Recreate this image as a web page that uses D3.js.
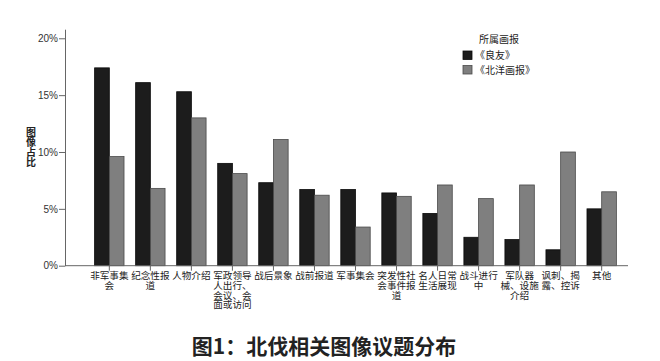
<!DOCTYPE html>
<html><head><meta charset="utf-8">
<script src="https://cdn.jsdelivr.net/npm/d3@7"></script>
<style>
body{margin:0;background:#fff;}
svg{display:block;font-family:"Liberation Sans","Noto Sans CJK SC",sans-serif;}
</style></head>
<body><svg id="c" width="660" height="361"></svg>
<script>
const categories = ["非军事集会","纪念性报道","人物介绍","军政领导人出行、会议、会面或访问","战后景象","战前报道","军事集会","突发性社会事件报道","名人日常生活展现","战斗进行中","军队器械、设施介绍","讽刺、揭露、控诉","其他"];
const labelLines = [["非军事集","会"],["纪念性报","道"],["人物介绍"],["军政领导","人出行、","会议、会","面或访问"],["战后景象"],["战前报道"],["军事集会"],["突发性社","会事件报","道"],["名人日常","生活展现"],["战斗进行","中"],["军队器","械、设施","介绍"],["讽刺、揭","露、控诉"],["其他"]];
const seriesNames = ["《良友》","《北洋画报》"];
const liangyou = [17.4,16.1,15.3,9.0,7.3,6.7,6.7,6.4,4.6,2.5,2.3,1.4,5.0];
const beiyang = [9.6,6.8,13.0,8.1,11.1,6.2,3.4,6.1,7.1,5.9,7.1,10.0,6.5];
const yTicks = [0,5,10,15,20];
const legendTitle = "所属画报";
const yTitle = "图像占比";
const chartTitle = "图1：北伐相关图像议题分布";

const svg = d3.select("#c");
const colors = ["#1c1c1c","#7f7f7f"];
const strokes = ["#0a0a0a","#4a4a4a"];

const x = d3.scaleBand().domain(categories).range([88.8,622.2]).paddingInner(0.2835).paddingOuter(0.14175);
const xs = d3.scaleBand().domain(seriesNames).range([0,x.bandwidth()]);
const y = d3.scaleLinear().domain([0,20.8]).range([265.7,29.2]);

const data = categories.map((c,i)=>({c, v:[liangyou[i],beiyang[i]]}));

const g = svg.append("g");
data.forEach(d=>{
  seriesNames.forEach((s,j)=>{
    g.append("rect")
      .attr("x", x(d.c)+xs(s))
      .attr("y", y(d.v[j]))
      .attr("width", xs.bandwidth())
      .attr("height", y(0)-y(d.v[j]))
      .attr("fill", colors[j])
      .attr("stroke", strokes[j])
      .attr("stroke-width", 0.8);
  });
});

// y axis
const ya = svg.append("g").attr("transform","translate(65,0)")
  .call(d3.axisLeft(y).tickValues(yTicks).tickFormat(d=>d+"%").tickSize(6).tickPadding(1).tickSizeOuter(0));
ya.selectAll("text").attr("font-size",10).attr("fill","#333");
ya.selectAll("line,path").attr("stroke","#666");

// x axis
const xa = svg.append("g").attr("transform",`translate(0,${y(0)})`)
  .call(d3.axisBottom(x).tickSize(5).tickFormat("").tickSizeOuter(0));
xa.select("path").remove();
xa.selectAll("line").attr("stroke","#666");
svg.append("line").attr("x1",65).attr("x2",628).attr("y1",y(0)).attr("y2",y(0)).attr("stroke","#666");

// x labels
categories.forEach((c,i)=>{
  const t = svg.append("text").attr("x",x(c)+x.bandwidth()/2).attr("y",279)
    .attr("text-anchor","middle").attr("font-size",9.6).attr("fill","#222")
    .attr("font-family","Noto Sans CJK SC");
  labelLines[i].forEach((l,k)=>{
    t.append("tspan").attr("x",x(c)+x.bandwidth()/2).attr("dy",k?9.8:0).text(l);
  });
});

// y title (vertical)
svg.append("text").attr("x",31).attr("y",127)
  .style("writing-mode","vertical-rl").style("text-orientation","upright")
  .attr("font-size",10).attr("font-weight","bold").attr("fill","#222")
  .attr("font-family","Noto Sans CJK SC").text(yTitle);

// legend
svg.append("text").attr("x",499).attr("y",43).attr("text-anchor","middle").attr("font-size",10)
  .attr("fill","#222").attr("font-family","Noto Sans CJK SC").text(legendTitle);
seriesNames.forEach((s,j)=>{
  svg.append("rect").attr("x",463).attr("y",51+j*14.5).attr("width",9).attr("height",8.5)
    .attr("fill",colors[j]).attr("stroke",strokes[j]).attr("stroke-width",0.8);
  svg.append("text").attr("x",475).attr("y",59+j*14.5).attr("font-size",10).attr("fill","#222")
    .attr("font-family","Noto Sans CJK SC").text(s);
});

// title
svg.append("text").attr("x",324).attr("y",354).attr("text-anchor","middle").attr("font-size",21)
  .attr("font-weight","bold").attr("fill","#222").attr("font-family","Noto Sans CJK SC").text(chartTitle);
</script></body></html>
